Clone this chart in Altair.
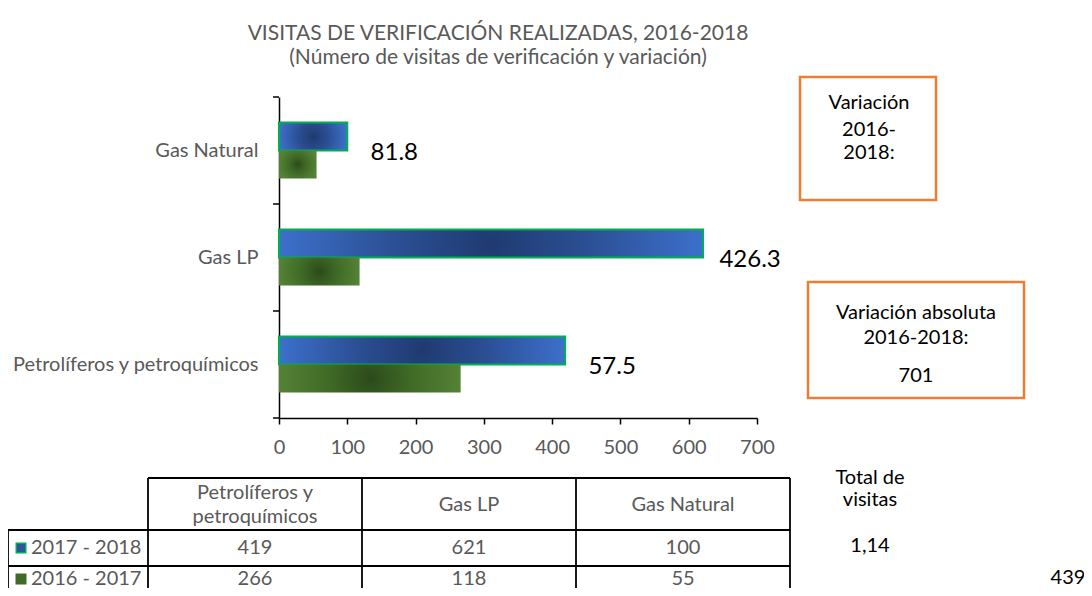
import altair as alt
import pandas as pd

# ---------------- data ----------------
categories = ["Petrolíferos y petroquímicos", "Gas LP", "Gas Natural"]
series = ["2017 - 2018", "2016 - 2017"]
visits_1718 = [419, 621, 100]
visits_1617 = [266, 118, 55]
variation = [57.5, 426.3, 81.8]
x_ticks = [0, 100, 200, 300, 400, 500, 600, 700]
title_lines = ["VISITAS DE VERIFICACIÓN REALIZADAS, 2016-2018",
               "(Número de visitas de verificación y variación)"]
total_texts = ["1,14", "439"]
abs_variation = sum(visits_1718) - sum(visits_1617)

y_order = list(reversed(categories))

rows = []
for c, a, b in zip(categories, visits_1718, visits_1617):
    rows.append({"cat": c, "series": series[0], "value": a})
    rows.append({"cat": c, "series": series[1], "value": b})
df = pd.DataFrame(rows)
df_var = pd.DataFrame({"cat": categories, "v": visits_1718, "variation": variation})
df_cats = pd.DataFrame({"cat": categories})
df_series = pd.DataFrame({"series": series})
dummy = pd.DataFrame({"a": [0]})

# ---------------- layout ----------------
W, H = 478, 321
PL, PT = 271, 89
SVG_W, SVG_H = 1076, 580
GRAY = "#595959"
FONT = "Lato"
FS = 20

xscale = alt.Scale(domain=[0, 700], nice=False, zero=True)
yscale = alt.Scale(domain=y_order, paddingInner=0, paddingOuter=0)
yoff = alt.Scale(domain=series, paddingInner=0, paddingOuter=0.91)

blue_grad = alt.RadialGradient(
    gradient="radial",
    stops=[alt.GradientStop(color="#1F3A70", offset=0),
           alt.GradientStop(color="#2B4F93", offset=0.45),
           alt.GradientStop(color="#3C70CB", offset=1)],
    x1=0.5, y1=0.5, r1=0, x2=0.5, y2=0.5, r2=0.5)
green_grad = alt.RadialGradient(
    gradient="radial",
    stops=[alt.GradientStop(color="#2C4A1A", offset=0),
           alt.GradientStop(color="#3F6A26", offset=0.45),
           alt.GradientStop(color="#548235", offset=1)],
    x1=0.5, y1=0.5, r1=0, x2=0.5, y2=0.5, r2=0.5)

x_axis = alt.Axis(values=x_ticks, title=None, grid=False, domainColor="black",
                  domainWidth=1.5, tickColor="black", tickWidth=1.5, tickSize=6,
                  labelColor=GRAY, labelFontSize=FS, labelPadding=13, labelFont=FONT,
                  labelFlush=False)
y_axis = alt.Axis(title=None, ticks=False, domainColor="black", domainWidth=1.5,
                  labelColor=GRAY, labelFontSize=FS, labelPadding=21, labelFont=FONT,
                  labelLimit=400)

blue = alt.Chart(df).transform_filter(alt.datum.series == series[0]).mark_bar(
    fill=blue_grad, stroke="#00B050", strokeWidth=2
).encode(
    x=alt.X("value:Q", scale=xscale, axis=x_axis),
    y=alt.Y("cat:N", scale=yscale, axis=y_axis),
    yOffset=alt.YOffset("series:N", scale=yoff),
)
green = alt.Chart(df).transform_filter(alt.datum.series == series[1]).mark_bar(
    fill=green_grad
).encode(
    x=alt.X("value:Q", scale=xscale, axis=None),
    y=alt.Y("cat:N", scale=yscale, axis=None),
    yOffset=alt.YOffset("series:N", scale=yoff),
)
var_labels = alt.Chart(df_var).mark_text(
    align="center", baseline="middle", dx=47, dy=2, fontSize=24, color="black", font=FONT
).encode(
    x=alt.X("v:Q", scale=xscale, axis=None),
    y=alt.Y("cat:N", scale=yscale, axis=None),
    text=alt.Text("variation:Q", format=".1f"),
)
y_ticks = alt.Chart(df_cats).mark_rule(color="black", strokeWidth=1.5).encode(
    y=alt.Y("cat:N", scale=yscale, bandPosition=0, axis=None),
    x=alt.value(-6), x2=alt.value(0),
)
y_tick_bottom = alt.Chart(dummy).mark_rule(color="black", strokeWidth=1.5).encode(
    y=alt.value(H), x=alt.value(-6), x2=alt.value(0)
)

# ---------------- table ----------------
col_scale = alt.Scale(type="point", domain=categories, range=[-131, 511], padding=0.5)
row_scale = alt.Scale(type="point", domain=series, range=[451, 482], padding=0)

table_vals = alt.Chart(df).mark_text(fontSize=FS, color=GRAY, font=FONT, baseline="middle").encode(
    x=alt.X("cat:N", scale=col_scale, axis=None),
    y=alt.Y("series:N", scale=row_scale, axis=None),
    text=alt.Text("value:Q"),
)
table_head = alt.Chart(df_cats).transform_calculate(
    label="replace(datum.cat, ' y ', ' y\\n')",
    nlines="indexof(datum.cat, ' y ') >= 0 ? 2 : 1",
).mark_text(fontSize=FS, color=GRAY, font=FONT, baseline="middle", lineBreak="\n",
            lineHeight=24).encode(
    x=alt.X("cat:N", scale=col_scale, axis=None),
    y=alt.Y("nlines:O", scale=alt.Scale(type="point", domain=[1, 2], range=[408, 396], padding=0), axis=None),
    text="label:N",
)
row_labels = alt.Chart(df_series).mark_text(
    fontSize=FS, color=GRAY, font=FONT, align="left", baseline="middle"
).encode(
    x=alt.value(-248),
    y=alt.Y("series:N", scale=row_scale, axis=None),
    text="series:N",
)
row_swatches = alt.Chart(df_series).mark_square(size=90, filled=True, opacity=1, strokeWidth=1.5).encode(
    x=alt.value(-258),
    y=alt.Y("series:N", scale=row_scale, axis=None),
    color=alt.Color("series:N", scale=alt.Scale(domain=series, range=["#2F55A0", "#3F6B27"]), legend=None),
    stroke=alt.condition(alt.datum.series == series[0], alt.value("#00B050"), alt.value("#3F6B27")),
)


def hline(x1, x2, y, w=1.8, color="black"):
    return alt.Chart(dummy).mark_rule(color=color, strokeWidth=w).encode(
        x=alt.value(x1), x2=alt.value(x2), y=alt.value(y))


def vline(x, y1, y2, w=1.8, color="black"):
    return alt.Chart(dummy).mark_rule(color=color, strokeWidth=w).encode(
        x=alt.value(x), y=alt.value(y1), y2=alt.value(y2))


def box(x1, x2, y1, y2):
    return alt.Chart(dummy).mark_rect(filled=False, stroke="#ED7D31", strokeWidth=2.5).encode(
        x=alt.value(x1), x2=alt.value(x2), y=alt.value(y1), y2=alt.value(y2))


def txt(s, x, y, size=FS, color="black", align="center"):
    return alt.Chart(dummy).mark_text(
        text=s, fontSize=size, color=color, font=FONT, align=align, baseline="middle"
    ).encode(x=alt.value(x), y=alt.value(y))


grid_lines = [
    hline(-131, 511, 381),
    hline(-271, 511, 433),
    hline(-271, 511, 469),
    hline(-271, 511, 505),
    vline(-271, 433, 505),
    vline(-131, 381, 505),
    vline(83, 381, 505),
    vline(297, 381, 505),
    vline(511, 381, 505),
]

extras = [
    txt(title_lines[0], 219, -63, size=21, color=GRAY),
    txt(title_lines[1], 219, -39, size=21, color=GRAY),
    box(521, 657, -20, 103),
    txt("Variación", 590, 6),
    txt("2016-", 590, 33),
    txt("2018:", 590, 56),
    box(529, 745, 185, 301),
    txt("Variación absoluta", 637, 216),
    txt("2016-2018:", 637, 241),
    txt(str(abs_variation), 637, 279),
    txt("Total de", 591, 381),
    txt("visitas", 591, 403),
    txt(total_texts[0], 591, 449),
    txt(total_texts[1], 789, 481),
]

chart = alt.layer(
    blue, green, var_labels, y_ticks, y_tick_bottom,
    table_vals, table_head, row_labels, row_swatches, *grid_lines, *extras
).resolve_scale(
    x="independent", y="independent", color="independent"
).properties(
    width=W, height=H,
    autosize=alt.AutoSizeParams(type="none"),
    padding={"left": PL, "top": PT, "right": SVG_W - PL - W, "bottom": SVG_H - PT - H},
).configure(font=FONT, view=alt.ViewConfig(stroke=None))

chart.save("out.html", embed_options={"renderer": "svg", "actions": False})
